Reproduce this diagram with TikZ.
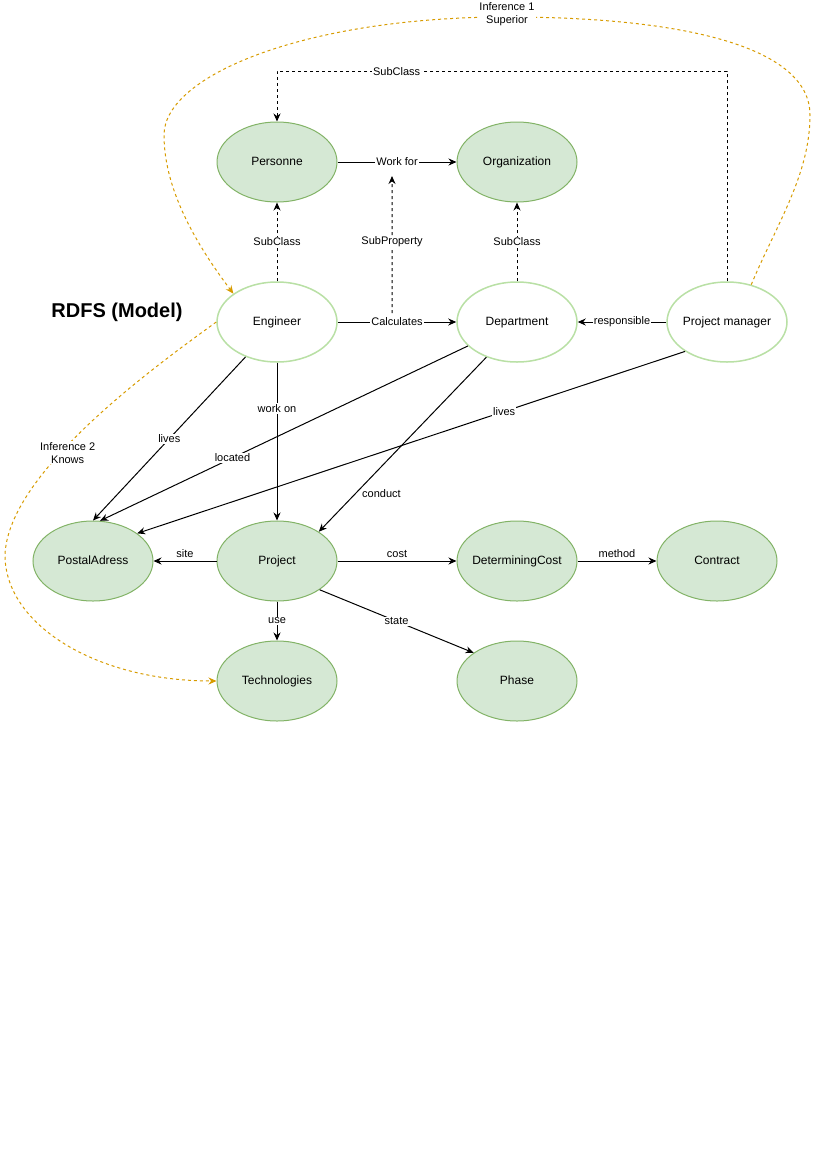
\documentclass[tikz,border=0pt]{standalone}
\usepackage{fontspec}
\setmainfont{Liberation Sans}
\usetikzlibrary{arrows.meta,shapes.geometric}

\definecolor{classfill}{HTML}{D5E8D4}
\definecolor{classdraw}{HTML}{82B366}
\definecolor{propdraw}{HTML}{B9E0A5}
\definecolor{infercol}{HTML}{D79B00}

\begin{document}
\begin{tikzpicture}[x=1pt,y=-1pt,
        subclass/.style={dash pattern=on 3pt off 3pt},
        inference/.style={draw=infercol,line width=1pt,dash pattern=on 3pt off 3pt}]
        \useasboundingbox (0,0) rectangle (812,1152);
        \node[font=\bfseries\fontsize{20}{24}\selectfont] (title) at (117,312) {RDFS (Model)};

        \begin{scope}[every node/.style={ellipse,minimum width=120pt,minimum height=80pt,
                    inner xsep=-8pt,inner ysep=0pt,text height=8.5pt,text depth=2.5pt,
                    font=\fontsize{12}{14}\selectfont},
                    cls/.style={fill=classfill,draw=classdraw,line width=1pt},
                    prop/.style={fill=white,draw=propdraw,line width=1.5pt}]
            \node[cls]  (Pers)  at (277,162) {Personne};
            \node[cls]  (Org)   at (517,162) {Organization};
            \node[prop] (Eng)   at (277,322) {Engineer};
            \node[prop] (Dep)   at (517,322) {Department};
            \node[prop] (PM)    at (727,322) {Project manager};
            \node[cls]  (Post)  at (93,561)  {PostalAdress};
            \node[cls]  (Proj)  at (277,561) {Project};
            \node[cls]  (Cost)  at (517,561) {DeterminingCost};
            \node[cls]  (Contr) at (717,561) {Contract};
            \node[cls]  (Tech)  at (277,681) {Technologies};
            \node[cls]  (Phase) at (517,681) {Phase};
        \end{scope}

        \begin{scope}[>={Stealth[length=8pt,width=7pt]},
                    every node/.style={fill=white,inner sep=1pt,font=\fontsize{11}{13}\selectfont},
                    every edge/.style={draw=black,line width=1pt}]
            \path [->] (Pers) edge node {Work for} node[coordinate,pos=0.458] (wfpt) {} (Org);
            \path [->] (Eng) edge node {Calculates} node[coordinate,pos=0.458] (calcpt) {} (Dep);
            \path [->] (PM) edge node {responsible} (Dep);
            \path [->] (Eng) edge[subclass] node {SubClass} (Pers);
            \path [->] (Dep) edge[subclass] node {SubClass} (Org);
            \path [->] (calcpt) edge[subclass,shorten <=9pt,shorten >=14pt] node {SubProperty} (wfpt);
            \draw [->,line width=1pt,subclass] (PM.north) -- ++(0,-210)
                -| node[pos=0.367] {SubClass} (Pers.north);

            \path [->] (Eng.228) edge node {lives} (Post.north);
            \path [->] (Dep.206) edge node[pos=0.64] {located} (Post.80);
            \path [->] (PM.215)  edge node[pos=0.33] {lives} (Post.32);
            \path [->] (Eng) edge node[pos=0.29] {work on} (Proj);
            \path [->] (Dep.229) edge node[pos=0.78,right=5pt,fill=none] {conduct} (Proj.35);
            \path [->] (Proj) edge node[above=2pt,fill=none] {site} (Post);
            \path [->] (Proj) edge node[above=2pt,fill=none] {cost} (Cost);
            \path [->] (Cost) edge node[above=2pt,fill=none] {method} (Contr);
            \path [->] (Proj) edge node {use} (Tech);
            \path [->] (Proj.326) edge node {state} (Phase.147);

            % inferred links
            \draw [->,inference] (PM.57) .. controls +(25,-60) and +(0,60) .. (810,115)
                .. controls +(0,-70) and +(170,0) .. (507,17)
                node[align=center,yshift=3pt] (inf1) {Inference 1\\Superior}
                .. controls +(-200,0) and +(0,-60) .. (164,135)
                .. controls +(0,60) and +(-30,-40) .. (Eng.147);
            \draw [->,inference] (Eng.west) .. controls +(-52,38) and +(3,-85) .. (5,555)
                node[pos=0.62,align=center,xshift=7pt] (inf2) {Inference 2\\Knows}
                .. controls +(0,70) and +(-120,0) .. (Tech.west);
        \end{scope}
\end{tikzpicture}
\end{document}
